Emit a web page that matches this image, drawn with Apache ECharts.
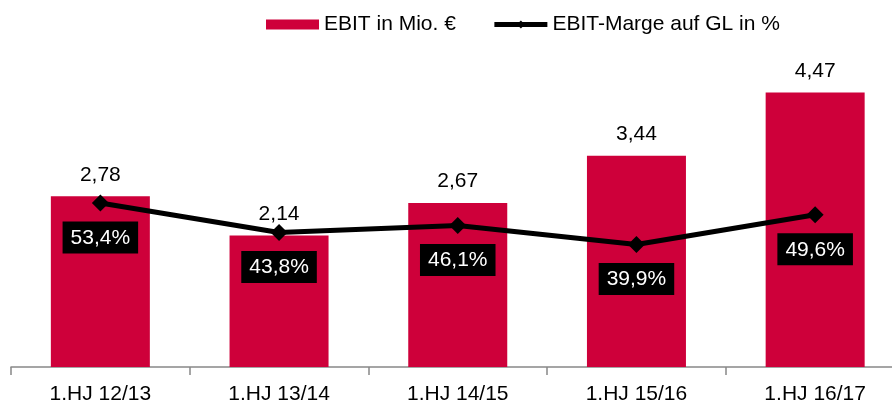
<!DOCTYPE html>
<html>
<head>
<meta charset="utf-8">
<script src="https://cdn.jsdelivr.net/npm/echarts@6/dist/echarts.min.js"></script>
<style>
html,body{margin:0;padding:0;background:#fff;}
#chart{width:892px;height:403px;}
</style>
</head>
<body>
<div id="chart"></div>
<script>
const categories = ['1.HJ 12/13', '1.HJ 13/14', '1.HJ 14/15', '1.HJ 15/16', '1.HJ 16/17'];
const ebitValues = [2.78, 2.14, 2.67, 3.44, 4.47];
const margeValues = [53.4, 43.8, 46.1, 39.9, 49.6];
const seriesNames = ['EBIT in Mio. €', 'EBIT-Marge auf GL in %'];

const FONT = '"Liberation Sans", Arial, Helvetica, sans-serif';
const fmt = (v, d) => v.toFixed(d).replace('.', ',');

const chart = echarts.init(document.getElementById('chart'), null, {renderer: 'canvas'});
chart.setOption({
  animation: false,
  backgroundColor: '#ffffff',
  textStyle: {fontFamily: FONT},
  legend: {
    top: 9,
    left: 261,
    itemGap: 36,
    itemWidth: 53,
    itemHeight: 10,
    textStyle: {fontSize: 21, color: '#000', fontFamily: FONT},
    data: [
      {name: seriesNames[0], icon: 'rect'},
      {name: seriesNames[1], lineStyle: {width: 5, color: '#000'}, itemStyle: {color: '#000'}}
    ]
  },
  grid: {left: 11, top: 60, width: 893.5, bottom: 36, containLabel: false, outerBoundsMode: 'none'},
  xAxis: {
    type: 'category',
    data: categories,
    axisLine: {lineStyle: {color: '#888888', width: 1.5}},
    axisTick: {show: true, length: 8, lineStyle: {color: '#888888', width: 1.5}},
    axisLabel: {fontSize: 21, color: '#000', fontFamily: FONT, margin: 17, interval: 0}
  },
  yAxis: [
    {type: 'value', min: 0, max: 5, show: false, splitLine: {show: false}},
    {type: 'value', min: 0, max: 100, show: false, splitLine: {show: false}}
  ],
  series: [
    {
      name: seriesNames[0],
      type: 'bar',
      data: ebitValues,
      barWidth: 99,
      itemStyle: {color: '#ce003a'},
      label: {
        show: true,
        position: 'top',
        distance: 11,
        fontSize: 21,
        lineHeight: 21,
        color: '#000',
        fontFamily: FONT,
        formatter: p => fmt(p.value, 2)
      },
      z: 1
    },
    {
      name: seriesNames[1],
      type: 'line',
      yAxisIndex: 1,
      data: margeValues,
      symbol: 'diamond',
      symbolSize: 17,
      lineStyle: {color: '#000', width: 5},
      itemStyle: {color: '#000'},
      label: {
        show: true,
        position: 'bottom',
        distance: 10,
        fontSize: 21,
        lineHeight: 21,
        color: '#fff',
        backgroundColor: '#000',
        padding: [6, 8, 5, 8],
        fontFamily: FONT,
        formatter: p => fmt(p.value, 1) + '%'
      },
      z: 3
    }
  ]
});
</script>
</body>
</html>
